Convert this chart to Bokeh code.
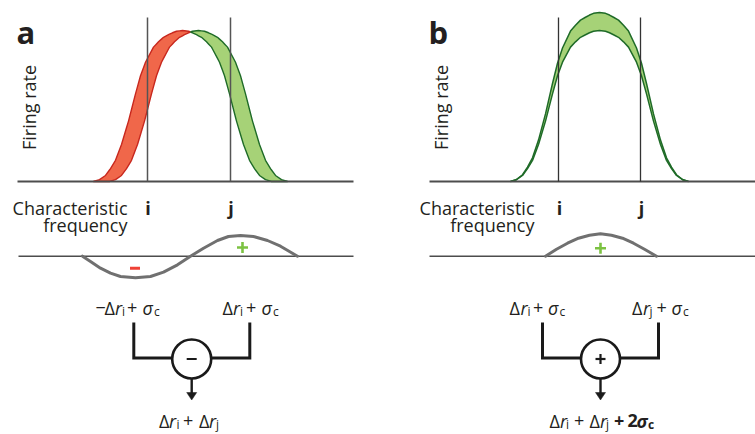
import numpy as np
from bokeh.plotting import figure
from bokeh.models import Range1d
from bokeh.embed import file_html
from bokeh.resources import INLINE
from bokeh.core.properties import value

# ---------------- data ----------------
# tuning-curve profile: offset from best frequency and relative firing rate
tuning_offset = [0, 6, 10, 14, 19, 24, 29, 37, 42, 47, 54, 61, 67, 72, 77, 83, 89]
tuning_rate = [1.0, 0.995, 0.985, 0.972, 0.955, 0.925, 0.89, 0.79, 0.70, 0.58, 0.40,
               0.245, 0.14, 0.085, 0.04, 0.012, 0.0]

# panel a: two shifted tuning curves (red, green)
a_best_freq = [182, 198]
a_peak_rate = [151, 151]
# panel b: same best frequency, two gains (outer, inner)
b_best_freq = [599, 599]
b_peak_rate = [169, 151]

# channel (characteristic frequency) positions and labels
channel_labels = ["i", "j"]
a_channel_freq = [147, 230]
b_channel_freq = [558, 640]

# difference curves (rate change) in the lower row
diff_a_freq = [82, 90, 100, 110, 120, 135, 150, 163, 177, 190, 203, 217, 228, 240, 253, 267, 280, 297]
diff_a_val = [0, -5.3, -12, -17, -20.3, -21.6, -20.3, -16, -8.6, 0, 8, 15.7, 19.7, 20.7, 19.7, 15.7, 10, 0]
diff_b_freq = [545, 556, 567, 578, 589, 600, 611, 622, 633, 644, 656]
diff_b_val = [0, 7, 13, 18, 21, 22.4, 21, 18, 13, 7, 0]

# ---------------- styling ----------------
W, H = 755, 434
FONT = "Open Sans"
INK = "#231f20"
AXIS = "#4d4d4d"
RED_FILL, RED_LINE = "#f0674a", "#c8281e"
GRN_FILL, GRN_LINE = "#a6d277", "#1f6b28"
GRAY = "#707070"
PLUS_GREEN = "#7cc242"
MINUS_RED = "#ef4136"
FS = 18      # main text size
SUB = 12     # subscript size

TOP_BASE = H - 181      # baseline of tuning curves
LOW_BASE = H - 255.7    # baseline of difference curves

p = figure(width=W, height=H, x_range=Range1d(0, W), y_range=Range1d(0, H),
           x_axis_type=None, y_axis_type=None, toolbar_location=None,
           output_backend="svg", min_border=0, outline_line_color=None)
p.grid.visible = False
p.background_fill_color = "white"
p.border_fill_color = "white"


def Y(y_img):
    return H - y_img


def txt(x, y_img, s, size=FS, style="normal", align="left", baseline="alphabetic",
        color=INK, angle=0.0):
    p.text(x=[x], y=[Y(y_img)], text=[s], angle=angle,
           text_font=value(FONT), text_font_size=value(f"{size}px"),
           text_font_style=value(style), text_align=value(align),
           text_baseline=value(baseline), text_color=value(color))


def seg(x0, y0, x1, y1, color=AXIS, width=1.5, cap="butt"):
    p.segment(x0=[x0], y0=[Y(y0)], x1=[x1], y1=[Y(y1)], line_color=color,
              line_width=width, line_cap=cap)


off = np.array(tuning_offset, dtype=float)
rate = np.array(tuning_rate, dtype=float)
full_off = np.concatenate([-off[::-1], off[1:]])
full_rate = np.concatenate([rate[::-1], rate[1:]])


def curve(center, peak):
    return center + full_off, TOP_BASE + peak * full_rate


# ---------------- panel a: tuning curves ----------------
xr, yr = curve(a_best_freq[0], a_peak_rate[0])
xg, yg = curve(a_best_freq[1], a_peak_rate[1])
xc = 0.5 * (a_best_freq[0] + a_best_freq[1])
grid = np.union1d(np.union1d(xr, xg), [xc])
r = np.interp(grid, xr, yr, left=TOP_BASE, right=TOP_BASE)
g = np.interp(grid, xg, yg, left=TOP_BASE, right=TOP_BASE)
lo = np.minimum(r, g)
p.varea(x=grid, y1=lo, y2=r, fill_color=RED_FILL)
p.varea(x=grid, y1=lo, y2=g, fill_color=GRN_FILL)
L = grid <= xc
R = grid >= xc
p.line(grid[L], r[L], line_color=RED_LINE, line_width=1.4)
p.line(grid[L], g[L], line_color=RED_LINE, line_width=1.4)
p.line(grid[R], r[R], line_color=GRN_LINE, line_width=1.4)
p.line(grid[R], g[R], line_color=GRN_LINE, line_width=1.4)

# ---------------- panel b: tuning curves ----------------
xo, yo = curve(b_best_freq[0], b_peak_rate[0])
xi, yi = curve(b_best_freq[1], b_peak_rate[1])
gb = np.union1d(xo, xi)
o = np.interp(gb, xo, yo)
ii = np.interp(gb, xi, yi)
p.varea(x=gb, y1=ii, y2=o, fill_color=GRN_FILL)
p.line(gb, o, line_color=GRN_LINE, line_width=1.5)
p.line(gb, ii, line_color=GRN_LINE, line_width=1.5)

# axes (baselines) and channel lines
seg(17, 181, 353, 181, width=1.8)
seg(429, 181, 755, 181, width=1.8)
for f in a_channel_freq:
    seg(f, 17, f, 181, color="#555555", width=1.5)
for f in b_channel_freq:
    seg(f, 17, f, 181, color="#333333", width=1.3)

# ---------------- lower row: difference curves ----------------
seg(18, 255.7, 353, 255.7, width=1.5)
seg(429, 255.7, 755, 255.7, width=1.5)
p.line(diff_a_freq, LOW_BASE + np.array(diff_a_val), line_color=GRAY, line_width=3, line_cap="round")
p.line(diff_b_freq, LOW_BASE + np.array(diff_b_val), line_color=GRAY, line_width=3, line_cap="round")

# red minus & green plus markers
seg(129.5, 267.7, 139.5, 267.7, color=MINUS_RED, width=3)
seg(236.5, 247, 247.5, 247, color=PLUS_GREEN, width=2.6)
seg(242, 241.5, 242, 252.5, color=PLUS_GREEN, width=2.6)
seg(594.5, 247.7, 605.5, 247.7, color=PLUS_GREEN, width=2.6)
seg(600, 242.2, 600, 253.2, color=PLUS_GREEN, width=2.6)

# ---------------- combiner diagrams ----------------
def combiner(xl, xm, xr_, sign):
    p.line([xl, xl, xr_, xr_], [Y(322), Y(357.5), Y(357.5), Y(322)],
           line_color="#1a1a1a", line_width=3, line_join="miter")
    p.circle(x=[xm], y=[Y(358.5)], radius=19.5, fill_color="white",
             line_color="#1a1a1a", line_width=2.6)
    seg(xm - 5, 358.5, xm + 5, 358.5, color="#1a1a1a", width=2.2)
    if sign == "+":
        seg(xm, 353.5, xm, 363.5, color="#1a1a1a", width=2.2)
    seg(xm, 378, xm, 393, color="#1a1a1a", width=2.4)
    p.patch([xm - 5, xm + 5, xm], [Y(392), Y(392), Y(399.5)], fill_color="#1a1a1a",
            line_color="#1a1a1a", line_width=0.5)


combiner(133.3, 191.2, 249.3, "-")
combiner(542, 600, 658, "+")

# ---------------- texts ----------------
txt(16, 31, "a", size=31, style="bold")
txt(428, 31, "b", size=31, style="bold")
txt(28, 107, "Firing rate", align="center", angle=np.pi / 2)
txt(440, 107, "Firing rate", align="center", angle=np.pi / 2)
for xr_end in (127, 534):
    txt(xr_end, 207, "Characteristic", align="right")
    txt(xr_end, 224, "frequency", align="right")
for f, lab in zip(a_channel_freq, channel_labels):
    txt(f + 0.5, 207, lab, style="bold", align="center")
for f, lab in zip(b_channel_freq, channel_labels):
    txt(f + 1, 207, lab, style="bold", align="center")


def formula(pieces, base):
    for x, s, kind in pieces:
        if kind == "n":
            txt(x, base, s)
        elif kind == "it":
            txt(x, base, s, style="italic")
        elif kind == "sub":
            txt(x, base + 4, s, size=SUB)
        elif kind == "b":
            txt(x, base, s, style="bold")
        elif kind == "bit":
            txt(x, base, s, style="bold italic")
        elif kind == "bsub":
            txt(x, base + 4, s, size=SUB, style="bold")


formula([(95, "\u2212", "n"), (104, "\u0394", "n"), (114.5, "r", "it"), (121.5, "i", "sub"),
         (126.5, "+", "n"), (142, "\u03c3", "it"), (153.5, "c", "sub")], 307)
formula([(222, "\u0394", "n"), (232.5, "r", "it"), (239.5, "i", "sub"), (245.5, "+", "n"),
         (261, "\u03c3", "it"), (272.5, "c", "sub")], 307)
formula([(158.5, "\u0394", "n"), (168.5, "r", "it"), (176, "i", "sub"), (182.5, "+", "n"),
         (198.5, "\u0394", "n"), (208.5, "r", "it"), (215.5, "j", "sub")], 420)
formula([(509, "\u0394", "n"), (520, "r", "it"), (527, "i", "sub"), (532.5, "+", "n"),
         (547.5, "\u03c3", "it"), (559, "c", "sub")], 307)
formula([(631.5, "\u0394", "n"), (642.5, "r", "it"), (649, "j", "sub"), (656, "+", "n"),
         (671, "\u03c3", "it"), (682.5, "c", "sub")], 307)
formula([(549, "\u0394", "n"), (559.5, "r", "it"), (565.5, "i", "sub"), (573.5, "+", "n"),
         (589, "\u0394", "n"), (599.5, "r", "it"), (605.5, "j", "sub"), (613.5, "+", "b"),
         (627, "2", "b"), (636, "\u03c3", "bit"), (647.5, "c", "bsub")], 420)

open("out.html", "w").write(file_html(p, INLINE))
